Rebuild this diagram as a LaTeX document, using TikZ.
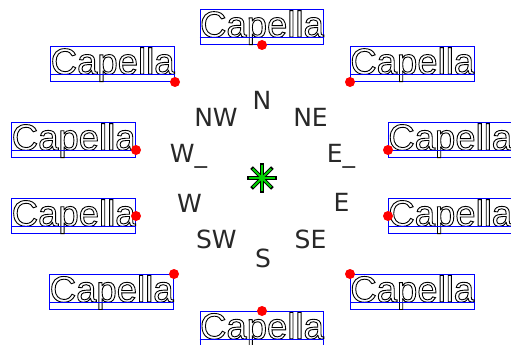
\documentclass[tikz,border=0pt]{standalone}
\usepackage{fontspec}
\usetikzlibrary{calc}
\newfontfamily\capfont{Liberation Sans}
\newfontfamily\lblfont{DejaVu Sans}
\newcommand\outltext[1]{\special{pdf:literal direct 1 Tr 0.9 w}#1\special{pdf:literal direct 0 Tr}}
\definecolor{stargreen}{RGB}{0,210,0}
\definecolor{lblgray}{RGB}{40,40,40}
\tikzset{
  capbox/.style={font=\capfont\fontsize{36.5}{40}\selectfont, inner sep=0pt,
    text height=27.5pt, text depth=7.5pt, draw=blue, line width=0.8pt},
  lbl/.style={font=\lblfont\fontsize{25}{30}\selectfont, text=lblgray, inner sep=0pt, anchor=base},
  dot/.style={fill=red},
}
\begin{document}
\begin{tikzpicture}[x=1pt,y=-1pt]
\useasboundingbox (0,0) rectangle (511,345);
% anchor points
\coordinate (pS) at (262,45);
\coordinate (pNW) at (175,82);
\coordinate (pNE) at (350,82);
\coordinate (pWa) at (136,150);
\coordinate (pEa) at (388,150);
\coordinate (pW) at (136,216);
\coordinate (pE) at (388,216);
\coordinate (pSW) at (174,274);
\coordinate (pSE) at (350,274);
\coordinate (pN) at (262,311);
% Capella boxes
\node[capbox, anchor=south] (c1) at (pS) {\outltext{Capella}};
\node[capbox, anchor=south east] (c2) at (pNW) {\outltext{Capella}};
\node[capbox, anchor=south west] (c3) at (pNE) {\outltext{Capella}};
\node[capbox, anchor=base east] (c4) at (pWa) {\outltext{Capella}};
\node[capbox, anchor=base west] (c5) at (pEa) {\outltext{Capella}};
\node[capbox, anchor=east] (c6) at (pW) {\outltext{Capella}};
\node[capbox, anchor=west] (c7) at (pE) {\outltext{Capella}};
\node[capbox, anchor=north east] (c8) at (pSW) {\outltext{Capella}};
\node[capbox, anchor=north west] (c9) at (pSE) {\outltext{Capella}};
\node[capbox, anchor=north] (c10) at (pN) {\outltext{Capella}};
\foreach \n in {c1,c2,c3,c4,c5,c6,c7,c8,c9,c10}
  \draw[blue, line width=0.8pt] (\n.base west) -- (\n.base east);
\foreach \p in {pS,pNW,pNE,pWa,pEa,pW,pE,pSW,pSE,pN}
  \fill[dot] (\p) circle (5);
% compass labels
\node[lbl] (lN) at (262,109) {N};
\node[lbl] (lNW) at (216,126.5) {NW};
\node[lbl] (lNE) at (310.5,126.5) {NE};
\node[lbl] (lWa) at (188.5,162) {W\_};
\node[lbl] (lEa) at (341,162) {E\_};
\node[lbl] (lW) at (189.5,212) {W};
\node[lbl] (lE) at (341.5,211.7) {E};
\node[lbl] (lSW) at (216.3,248.3) {SW};
\node[lbl] (lSE) at (310.5,248.3) {SE};
\node[lbl] (lS) at (263,267) {S};
% star marker
\coordinate (ctr) at (262,178);
\foreach \a in {0,45,90,135}
  \draw[black, line width=3.6pt, line cap=rect] ($(ctr)+(\a:13)$) -- ($(ctr)+(\a+180:13)$);
\foreach \a in {0,45,90,135}
  \draw[stargreen, line width=2pt] ($(ctr)+(\a:13)$) -- ($(ctr)+(\a+180:13)$);
\end{tikzpicture}
\end{document}
